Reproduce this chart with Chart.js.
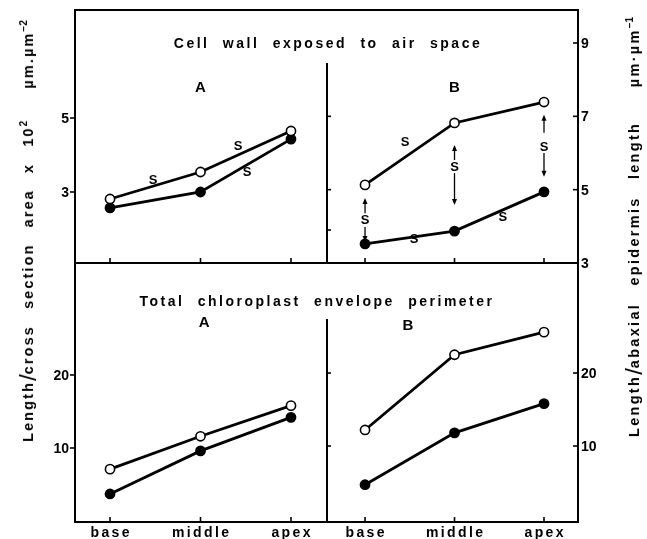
<!DOCTYPE html>
<html>
<head>
<meta charset="utf-8">
<script src="https://cdn.jsdelivr.net/npm/chart.js@4.4.0/dist/chart.umd.min.js"></script>
<style>
  html, body { margin:0; padding:0; background:#fff; }
  #wrap { position:relative; width:647px; height:539px; overflow:hidden; font-family:"Liberation Sans", Arial, sans-serif; font-weight:bold; color:#000; }
  canvas { position:absolute; left:0; top:0; }
  .t { position:absolute; white-space:nowrap; font-size:14px; letter-spacing:2.5px; word-spacing:7px; transform:translate(-50%,-50%); }
  .rot { position:absolute; white-space:nowrap; font-size:14.5px; letter-spacing:2.1px; word-spacing:10px; transform:translate(-50%,-50%) rotate(-90deg); }
  .rot.r { letter-spacing:2.3px; word-spacing:11px; }
  sup { font-size:10px; vertical-align:6px; letter-spacing:0; }
  .sl { font-size:24px; font-weight:normal; vertical-align:-3px; letter-spacing:0; }
</style>
</head>
<body>
<div id="wrap">
  <canvas id="c1" width="647" height="539"></canvas>
  <canvas id="c2" width="647" height="539"></canvas>
  <canvas id="c3" width="647" height="539"></canvas>
  <canvas id="c4" width="647" height="539"></canvas>
  <div class="t" style="left:328px;top:43px;">Cell wall exposed to air space</div>
  <div class="t" style="left:317px;top:301px;">Total chloroplast envelope perimeter</div>
  <div class="rot" style="left:28px;top:231px;">Length<span class="sl">/</span>cross section area x 10<sup>2</sup> &nbsp;µm.µm<sup>−2</sup></div>
  <div class="rot r" style="left:634px;top:227px;">Length<span class="sl">/</span>abaxial epidermis length &nbsp;µm·µm<sup>−1</sup></div>
</div>
<script>
// ---- data ----
const categories = ['base', 'middle', 'apex'];
// Cell wall exposed to air space (A: left axis, B: right axis)
const cellA_open   = [2.81, 3.54, 4.65];
const cellA_filled = [2.57, 3.00, 4.43];
const cellB_open   = [5.13, 6.82, 7.39];
const cellB_filled = [3.52, 3.87, 4.94];
// Total chloroplast envelope perimeter
const chlA_open   = [7.1, 11.6, 15.8];
const chlA_filled = [3.7, 9.6, 14.2];
const chlB_open   = [12.2, 22.5, 25.6];
const chlB_filled = [4.7, 11.8, 15.8];
// tick labels
const topLeftTicks = [3, 5];
const topRightTicks = [3, 5, 7, 9];
const topDividerTicks = [3.9, 5, 7];
const bottomTicks = [10, 20];
// significance marks
const sigA = [[0.475, 3.32], [1.414, 4.22], [1.514, 3.54]];
const sigB = [[0.447, 6.30], [1.541, 4.25], [0.547, 3.65]];
// vertical double arrows in B: [x, upTip, upBase, sLabel, downStart, downTip]
const arrowsB = [
  [0, 4.77, 4.36, 4.17, 3.98, 3.57],
  [1, 6.22, 5.81, 5.62, 5.45, 4.58],
  [2, 7.04, 6.55, 6.16, 6.00, 5.35]
];

const W = 647, H = 539;
const FONT = 'bold 14px "Liberation Sans", Arial, sans-serif';

function pts(arr) { return arr.map((v, i) => ({ x: i, y: v })); }

function ds(arr, filled) {
  return {
    data: pts(arr),
    borderColor: '#000',
    borderWidth: 2.8,
    pointRadius: 4.6,
    pointBorderWidth: 1.6,
    pointBackgroundColor: filled ? '#000' : '#fff',
    pointBorderColor: '#000',
    tension: 0,
    clip: false
  };
}

function line(ctx, x1, y1, x2, y2, w) {
  ctx.beginPath(); ctx.lineWidth = w || 2; ctx.moveTo(x1, y1); ctx.lineTo(x2, y2); ctx.stroke();
}

function makeChart(id, cfg) {
  const framePlugin = {
    id: 'frame' + id,
    afterDatasetsDraw(chart) {
      const { ctx, chartArea: a, scales } = chart;
      const xs = scales.x, ys = scales.y;
      ctx.save();
      ctx.strokeStyle = '#000';
      ctx.fillStyle = '#000';
      ctx.lineCap = 'square';
      // frame edges
      if (cfg.edges.top) line(ctx, a.left, a.top, a.right, a.top, 2);
      line(ctx, a.left, a.bottom, a.right, a.bottom, 2);
      if (cfg.edges.left === 'full') line(ctx, a.left, a.top, a.left, a.bottom, 2);
      if (cfg.edges.right === 'full') line(ctx, a.right, a.top, a.right, a.bottom, 2);
      if (cfg.edges.left === 'partial') line(ctx, a.left, a.top + cfg.divStart, a.left, a.bottom, 2);
      // x ticks (inward)
      ctx.lineCap = 'butt';
      categories.forEach((c, i) => {
        const px = xs.getPixelForValue(i);
        line(ctx, px, a.bottom, px, a.bottom - 5, 1.6);
        if (cfg.xLabels) {
          ctx.font = FONT;
          ctx.textBaseline = 'middle';
          drawSpaced(ctx, c, px, a.bottom + 11, 2.4);
        }
      });
      // y ticks
      ctx.font = FONT;
      ctx.textBaseline = 'middle';
      if (cfg.leftTicks) {
        cfg.leftTicks.forEach(v => {
          const py = ys.getPixelForValue(v);
          line(ctx, a.left - 5, py, a.left, py, 1.6);
          ctx.textAlign = 'right';
          ctx.fillText(String(v), a.left - 6, py + 1);
        });
      }
      if (cfg.rightTicks) {
        cfg.rightTicks.forEach(v => {
          const py = ys.getPixelForValue(v);
          line(ctx, a.right - 5, py, a.right, py, 1.6);
          ctx.textAlign = 'left';
          ctx.fillText(String(v), a.right + 3, py + 1);
        });
      }
      if (cfg.dividerTicks) {
        cfg.dividerTicks.forEach(v => {
          const py = ys.getPixelForValue(v);
          line(ctx, a.left, py, a.left + 4, py, 1.6);
        });
      }
      // panel letter
      ctx.textAlign = 'center';
      ctx.font = 'bold 15px "Liberation Sans", Arial, sans-serif';
      ctx.fillText(cfg.letter[0], xs.getPixelForValue(cfg.letter[1]), ys.getPixelForValue(cfg.letter[2]));
      // significance marks
      ctx.font = 'bold 13px "Liberation Sans", Arial, sans-serif';
      (cfg.sig || []).forEach(s => {
        ctx.fillText('S', xs.getPixelForValue(s[0]), ys.getPixelForValue(s[1]));
      });
      (cfg.arrows || []).forEach(ar => {
        const px = xs.getPixelForValue(ar[0]);
        const upTip = ys.getPixelForValue(ar[1]), upBase = ys.getPixelForValue(ar[2]);
        const sy = ys.getPixelForValue(ar[3]);
        const dStart = ys.getPixelForValue(ar[4]), dTip = ys.getPixelForValue(ar[5]);
        line(ctx, px, upBase, px, upTip + 2, 1.3);
        arrowHead(ctx, px, upTip, -1);
        ctx.fillText('S', px, sy);
        line(ctx, px, dStart, px, dTip - 2, 1.3);
        arrowHead(ctx, px, dTip, 1);
      });
      ctx.restore();
    }
  };
  return new Chart(document.getElementById(id), {
    type: 'line',
    data: { datasets: [ds(cfg.open, false), ds(cfg.filled, true)] },
    options: {
      responsive: false,
      animation: false,
      events: [],
      layout: { padding: cfg.padding },
      plugins: { legend: { display: false }, tooltip: { enabled: false } },
      scales: {
        x: { type: 'linear', display: false, min: cfg.xmin, max: cfg.xmax },
        y: { type: 'linear', display: false, min: cfg.ymin, max: cfg.ymax }
      }
    },
    plugins: [framePlugin]
  });
}

function arrowHead(ctx, x, tipY, dir) {
  ctx.beginPath();
  ctx.moveTo(x, tipY);
  ctx.lineTo(x - 2.5, tipY - dir * 6);
  ctx.lineTo(x + 2.5, tipY - dir * 6);
  ctx.closePath();
  ctx.fill();
}

function drawSpaced(ctx, text, cx, cy, sp) {
  const chars = text.split('');
  const widths = chars.map(ch => ctx.measureText(ch).width);
  const total = widths.reduce((s, w) => s + w, 0) + sp * (chars.length - 1);
  let x = cx - total / 2;
  ctx.textAlign = 'left';
  chars.forEach((ch, i) => { ctx.fillText(ch, x, cy); x += widths[i] + sp; });
  ctx.textAlign = 'center';
}

const L = 75, M = 327, R = 578, T = 10, MID = 263, B = 522;

makeChart('c1', {
  open: cellA_open, filled: cellA_filled,
  padding: { left: L, right: W - M, top: T, bottom: H - MID },
  xmin: -0.387, xmax: 2.398, ymin: 1.08, ymax: 7.92,
  edges: { top: true, left: 'full' },
  leftTicks: topLeftTicks,
  letter: ['A', 1, 5.81],
  sig: sigA
});
makeChart('c2', {
  open: cellB_open, filled: cellB_filled,
  padding: { left: M, right: W - R, top: T, bottom: H - MID },
  xmin: -0.425, xmax: 2.38, ymin: 3.0, ymax: 9.9,
  edges: { top: true, right: 'full', left: 'partial' }, divStart: 54,
  rightTicks: topRightTicks,
  dividerTicks: topDividerTicks,
  letter: ['B', 1, 7.77],
  sig: sigB,
  arrows: arrowsB
});
makeChart('c3', {
  open: chlA_open, filled: chlA_filled,
  padding: { left: L, right: W - M, top: MID, bottom: H - B },
  xmin: -0.387, xmax: 2.398, ymin: -0.14, ymax: 35.34,
  edges: { left: 'full' },
  leftTicks: bottomTicks,
  xLabels: true,
  letter: ['A', 1.04, 27.1]
});
makeChart('c4', {
  open: chlB_open, filled: chlB_filled,
  padding: { left: M, right: W - R, top: MID, bottom: H - B },
  xmin: -0.425, xmax: 2.38, ymin: -0.41, ymax: 35.07,
  edges: { right: 'full', left: 'partial' }, divStart: 57,
  rightTicks: bottomTicks,
  dividerTicks: bottomTicks,
  xLabels: true,
  letter: ['B', 0.48, 26.4]
});
</script>
</body>
</html>
